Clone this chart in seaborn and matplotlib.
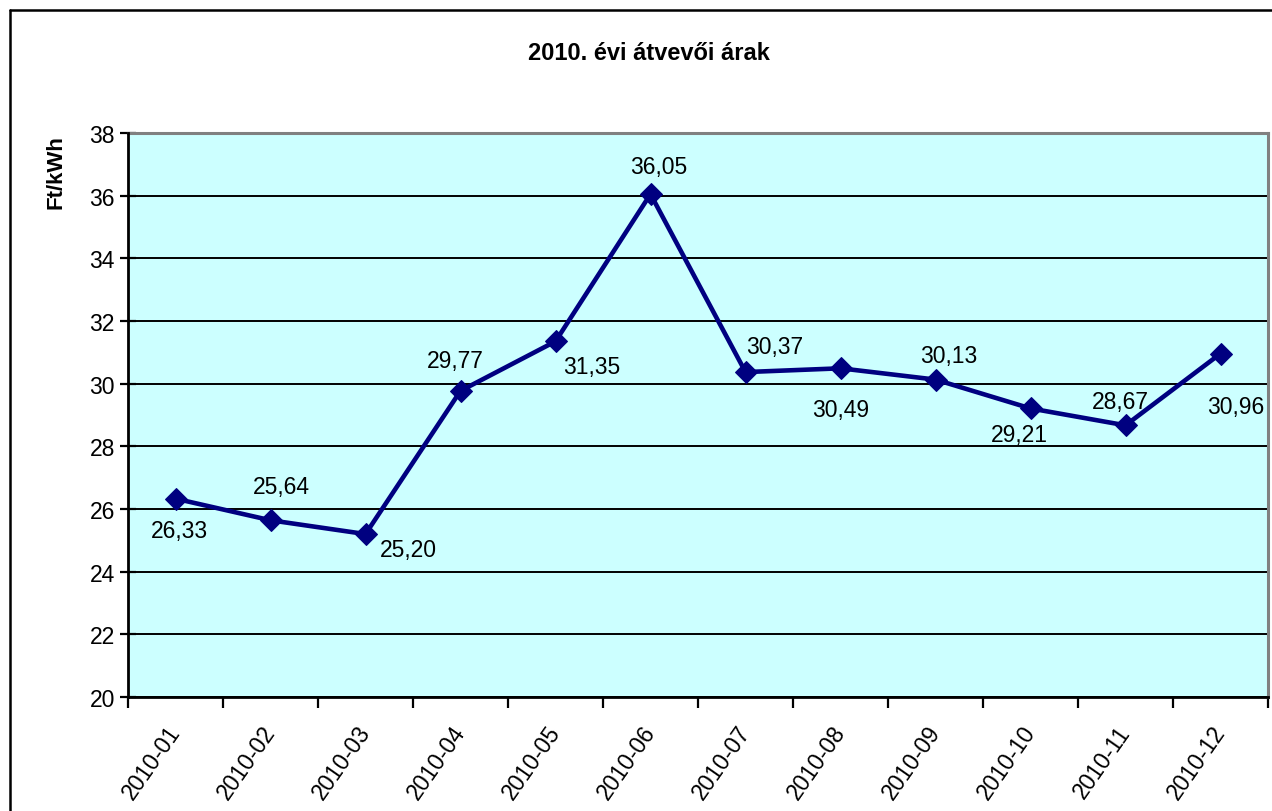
import matplotlib
matplotlib.use("Agg")
import matplotlib.pyplot as plt
from matplotlib.lines import Line2D
import seaborn as sns
import pandas as pd
import numpy as np

# ---- data ----
months = ["2010-01", "2010-02", "2010-03", "2010-04", "2010-05", "2010-06",
          "2010-07", "2010-08", "2010-09", "2010-10", "2010-11", "2010-12"]
prices = [26.33, 25.64, 25.20, 29.77, 31.35, 36.05,
          30.37, 30.49, 30.13, 29.21, 28.67, 30.96]
price_labels = ["26,33", "25,64", "25,20", "29,77", "31,35", "36,05",
                "30,37", "30,49", "30,13", "29,21", "28,67", "30,96"]
y_ticks = [20, 22, 24, 26, 28, 30, 32, 34, 36, 38]
title = "2010. évi átvevői árak"
y_title = "Ft/kWh"

# label offsets in pixels (dx, dy upward) - style/positioning only
label_offsets = [(4, -32), (11, 34), (43, -15), (-5, 30), (36, -25), (8, 28),
                 (29, 26), (0, -41), (13, 24), (-11, -26), (-5, 24), (15, -53)]

sns.set_style("white")
plt.rcParams["font.family"] = ["Liberation Sans", "DejaVu Sans"]
plt.rcParams["text.color"] = "black"
plt.rcParams["xtick.color"] = "black"
plt.rcParams["ytick.color"] = "black"
plt.rcParams["axes.labelcolor"] = "black"

W, H = 1272, 812
fig = plt.figure(figsize=(W / 100, H / 100), dpi=100)
fig.patch.set_facecolor("white")

L, R, T, B = 128, 1268, 134, 698
ax = fig.add_axes([L / W, 1 - B / H, (R - L) / W, (B - T) / H])
ax.set_facecolor("#CCFFFF")

df = pd.DataFrame({"x": np.arange(len(months)), "price": prices})
sns.lineplot(data=df, x="x", y="price", ax=ax, color="#000080", linewidth=3.3,
             marker="D", markersize=11.5, markeredgecolor="#000080",
             markerfacecolor="#000080", zorder=5)

FS = 16.5
ax.set_xlim(-0.5, len(months) - 0.5)
ax.set_ylim(y_ticks[0], y_ticks[-1])
ax.set_yticks(y_ticks)
ax.set_yticklabels([str(t) for t in y_ticks], fontsize=FS, color="black")
ax.yaxis.grid(True, color="black", linewidth=1.4)
ax.set_axisbelow(True)

# x: ticks at category boundaries, labels at centers
ax.set_xticks(np.arange(-0.5, len(months), 1.0))
ax.set_xticklabels([])
ax.set_xticks(np.arange(len(months)), minor=True)
ax.set_xticklabels(months, minor=True, fontsize=FS, rotation=55, color="black",
                   ha="right", va="center", rotation_mode="anchor")
ax.tick_params(axis="x", which="major", direction="out", length=8, width=1.6,
               color="black", bottom=True)
ax.tick_params(axis="x", which="minor", length=0, pad=22, bottom=True,
               labelcolor="black")
ax.tick_params(axis="y", direction="inout", length=11, width=1.6, color="black",
               pad=4, left=True, labelcolor="black")
ax.set_xlabel("")
ax.set_ylabel("")

for side in ["left", "bottom"]:
    ax.spines[side].set_color("black")
    ax.spines[side].set_linewidth(2)
    ax.spines[side].set_zorder(6)
for side in ["top", "right"]:
    ax.spines[side].set_visible(True)
    ax.spines[side].set_color("#808080")
    ax.spines[side].set_linewidth(2.2)

for i, (v, lab) in enumerate(zip(prices, price_labels)):
    dx, dy = label_offsets[i]
    ax.annotate(lab, xy=(i, v), xytext=(dx * 0.72, dy * 0.72),
                textcoords="offset points", ha="center", va="center",
                fontsize=FS, color="black", zorder=7)

# title and y-axis title
fig.text(649 / W, 1 - 53 / H, title, ha="center", va="center",
         fontsize=17, fontweight="bold", color="black")
fig.text(56 / W, 1 - 172 / H, y_title, ha="center", va="center",
         rotation=90, fontsize=16, fontweight="bold", color="black")

# outer chart frame (only left and top edges visible)
fig.add_artist(Line2D([9.5 / W, 9.5 / W], [0, 1 - 10.5 / H], color="black",
                      linewidth=1.8, transform=fig.transFigure))
fig.add_artist(Line2D([9.5 / W, 1.0], [1 - 10.5 / H, 1 - 10.5 / H],
                      color="black", linewidth=1.8, transform=fig.transFigure))

fig.savefig("out.png", dpi=100, facecolor="white")
